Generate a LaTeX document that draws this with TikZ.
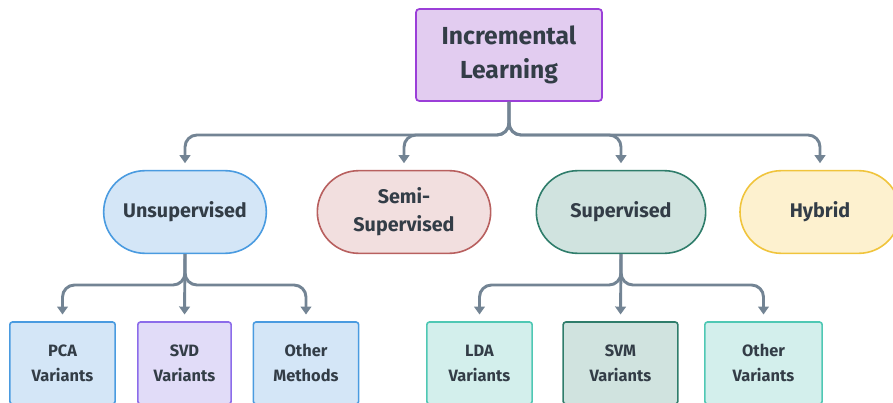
\documentclass[tikz,border=0pt]{standalone}
\usepackage{fontspec}
\setmainfont{Fira Sans}
\usetikzlibrary{arrows.meta,positioning,calc}

\definecolor{txt}{HTML}{333D47}
\definecolor{conn}{HTML}{738494}
\definecolor{topfill}{HTML}{E2CCF0}
\definecolor{topdraw}{HTML}{9B3FD8}
\definecolor{blufill}{HTML}{D4E6F7}
\definecolor{bludraw}{HTML}{4A9BE0}
\definecolor{redfill}{HTML}{F2DFDF}
\definecolor{reddraw}{HTML}{B8605F}
\definecolor{grnfill}{HTML}{D0E3DF}
\definecolor{grndraw}{HTML}{2F7D6B}
\definecolor{yelfill}{HTML}{FDF1CF}
\definecolor{yeldraw}{HTML}{F0C43C}
\definecolor{vilfill}{HTML}{E1DCF8}
\definecolor{vildraw}{HTML}{8C6CEA}
\definecolor{cyafill}{HTML}{D3EFEC}
\definecolor{cyadraw}{HTML}{4FC8B4}

\tikzset{
  every node/.style={text=txt, font=\bfseries, align=center, inner sep=0pt},
  rootbox/.style={draw=topdraw, fill=topfill, line width=1.3pt, rounded corners=2.5pt,
    minimum width=139.5pt, minimum height=69pt, font=\fontsize{18.5}{25.5}\selectfont\bfseries},
  pill/.style={line width=1.2pt, rounded corners=31pt,
    minimum width=124pt, minimum height=62pt, font=\fontsize{14.8}{21}\selectfont\bfseries},
  leaf/.style={line width=1.2pt, rounded corners=2pt,
    minimum width=79pt, minimum height=61.5pt, font=\fontsize{12.3}{18.75}\selectfont\bfseries},
  arr/.style={draw=conn, line width=2.2pt, rounded corners=9pt,
    -{Triangle[width=8pt,length=6pt]}, shorten >=5pt},
}

\begin{document}
\begin{tikzpicture}[x=0.75pt,y=-0.75pt]
\useasboundingbox (0,0) rectangle (893,403);
\clip (0,0) rectangle (893,403);

% root
\node[rootbox] (top) at (509,55) {Incremental\\Learning};

% families
\node[pill, draw=bludraw, fill=blufill, minimum width=122pt] (uns) at (185,212) {Unsupervised};
\node[pill, draw=reddraw, fill=redfill, minimum width=130pt] (semi) at (404,212) {Semi-\\Supervised};
\node[pill, draw=grndraw, fill=grnfill, minimum width=127pt] (sup) at (621,212) {Supervised};
\node[pill, draw=yeldraw, fill=yelfill, minimum width=120pt] (hyb) at (820,212) {Hybrid};

% methods
\node[leaf, draw=bludraw, fill=blufill] (pca) at (62.5,363) {PCA\\Variants};
\node[leaf, draw=vildraw, fill=vilfill, minimum width=70pt] (svd) at (184.5,363) {SVD\\Variants};
\node[leaf, draw=bludraw, fill=blufill] (oth1) at (306,363) {Other\\Methods};
\node[leaf, draw=cyadraw, fill=cyafill] (lda) at (479.5,363) {LDA\\Variants};
\node[leaf, draw=grndraw, fill=grnfill, minimum width=86pt] (svm) at (620.5,363) {SVM\\Variants};
\node[leaf, draw=cyadraw, fill=cyafill, minimum width=88pt] (oth2) at (763.5,363) {Other\\Variants};

% junctions
\coordinate (j0) at (509,135);
\coordinate (j1) at (185,285);
\coordinate (j2) at (621,285);

% root to families
\draw[arr] (top.south) -- (j0) -| (uns.north);
\draw[arr] (top.south) -- (j0) -| (semi.north);
\draw[arr] (top.south) -- (j0) -| (sup.north);
\draw[arr] (top.south) -- (j0) -| (hyb.north);

% unsupervised branch
\draw[arr] (uns.south) -- (j1) -| (pca.north);
\draw[arr] (uns.south) -- (svd.north);
\draw[arr] (uns.south) -- (j1) -| (oth1.north);

% supervised branch
\draw[arr] (sup.south) -- (j2) -| (lda.north);
\draw[arr] (sup.south) -- (svm.north);
\draw[arr] (sup.south) -- (j2) -| (oth2.north);
\end{tikzpicture}
\end{document}
